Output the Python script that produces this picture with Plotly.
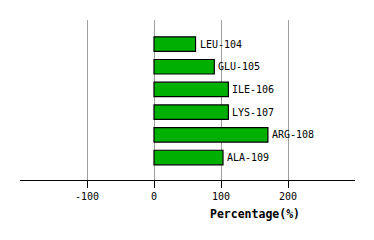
import plotly.graph_objects as go

residues = ["LEU-104", "GLU-105", "ILE-106", "LYS-107", "ARG-108", "ALA-109"]
percent = [62, 90, 111, 111, 170, 103]
tick_vals = [-100, 0, 100, 200]
tick_text = ["-100", "0", "100", "200"]

pos = list(range(len(residues)))
font = "DejaVu Sans Mono, Courier New, monospace"

fig = go.Figure()
fig.add_trace(go.Bar(
    x=percent, y=pos, orientation="h", width=0.64,
    marker=dict(color="#00b000", line=dict(color="#000000", width=1.2)),
    hoverinfo="skip",
))
for p, v, name in zip(pos, percent, residues):
    fig.add_annotation(x=v, y=p, text=name, showarrow=False, xanchor="left",
                       xshift=2, yshift=0, font=dict(family=font, size=10, color="#000"))

fig.add_annotation(x=151, y=0, yref="paper", yshift=-34, text="<b>Percentage(%)</b>",
                   showarrow=False, xanchor="center", yanchor="middle",
                   font=dict(family=font, size=11.5, color="#000"))

fig.update_layout(
    width=374, height=240,
    margin=dict(l=20, r=19, t=20, b=60),
    paper_bgcolor="white", plot_bgcolor="white",
    showlegend=False,
    xaxis=dict(range=[-200, 300], tickvals=tick_vals, ticktext=tick_text,
               showgrid=True, gridcolor="#a0a0a0", gridwidth=1,
               zeroline=False, showline=True, linecolor="#000", linewidth=1,
               ticks="outside", ticklen=7, tickcolor="#000", tickwidth=1,
               tickfont=dict(family=font, size=10, color="#000")),
    yaxis=dict(range=[5.99, -1.06], showticklabels=False, showgrid=False,
               zeroline=False, showline=False, ticks=""),
)
fig.write_html("out.html")
